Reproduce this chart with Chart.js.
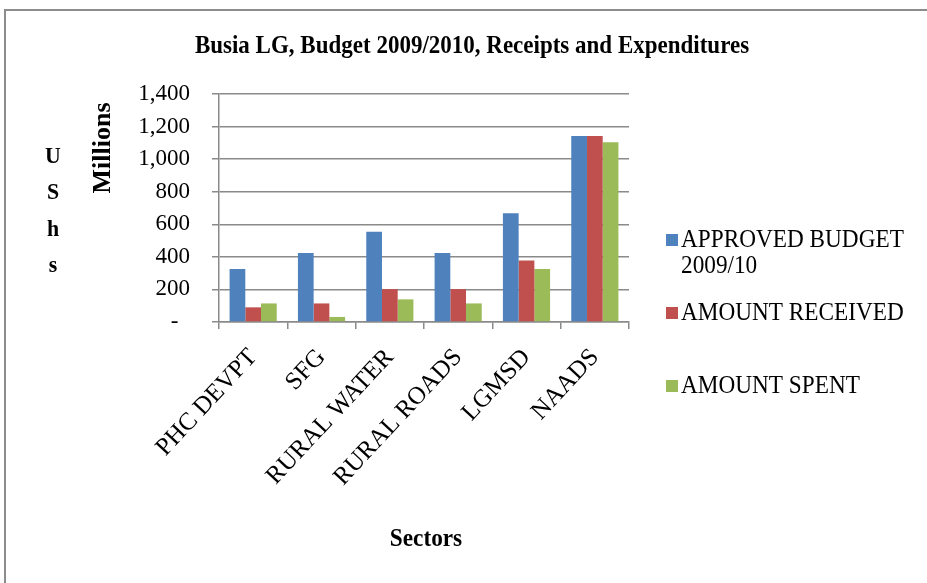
<!DOCTYPE html>
<html><head><meta charset="utf-8">
<script src="https://cdn.jsdelivr.net/npm/chart.js@4/dist/chart.umd.min.js"></script>
<style>html,body{margin:0;padding:0;background:#fff}canvas{display:block}</style>
</head><body>
<canvas id="c" width="927" height="583"></canvas>
<script>
const categories = ['PHC DEVPT','SFG','RURAL WATER','RURAL ROADS','LGMSD','NAADS'];
const approvedBudget = [325,423,554,423,668,1142];
const amountReceived = [90,114,202,202,378,1142];
const amountSpent = [114,31,139,114,325,1104];
const seriesLabels = ['APPROVED BUDGET 2009/10','AMOUNT RECEIVED','AMOUNT SPENT'];
const legendLines = [['APPROVED BUDGET','2009/10'],['AMOUNT RECEIVED'],['AMOUNT SPENT']];
const yTickValues = [0,200,400,600,800,1000,1200,1400];
const chartTitle = 'Busia LG, Budget 2009/2010, Receipts and Expenditures';
const yTitle = 'Millions';
const yUnitLetters = ['U','S','h','s'];
const xTitle = 'Sectors';

const colors = ['#4F81BD','#C0504D','#9BBB59'];
const SERIF = '"Liberation Serif","Times New Roman",serif';
const GRID = '#8a8a8a';

function squeezedText(ctx, text, x, y, sx) {
  ctx.save();
  ctx.translate(x, y);
  ctx.scale(sx, 1);
  ctx.fillText(text, 0, 0);
  ctx.restore();
}

const decor = {
  id: 'decor',
  beforeDraw(chart) {
    const ctx = chart.ctx;
    ctx.save();
    ctx.fillStyle = '#fff';
    ctx.fillRect(0, 0, chart.width, chart.height);
    ctx.strokeStyle = '#8c8c8c';
    ctx.lineWidth = 2;
    ctx.beginPath();
    ctx.moveTo(5, chart.height);
    ctx.lineTo(5, 10);
    ctx.lineTo(chart.width, 10);
    ctx.stroke();
    ctx.restore();
  },
  afterDraw(chart) {
    const ctx = chart.ctx;
    ctx.save();
    ctx.fillStyle = '#000';
    ctx.textBaseline = 'middle';
    // title
    ctx.font = 'bold 25px ' + SERIF;
    ctx.textAlign = 'center';
    squeezedText(ctx, chartTitle, 472, 47, 0.92);
    // Millions
    ctx.save();
    ctx.translate(103, 148);
    ctx.rotate(-Math.PI / 2);
    ctx.font = 'bold 26px ' + SERIF;
    squeezedText(ctx, yTitle, 0, 0, 1.0);
    ctx.restore();
    // U S h s
    ctx.font = 'bold 23px ' + SERIF;
    const ly = [157, 193, 230, 266];
    yUnitLetters.forEach((l, i) => squeezedText(ctx, l, 53, ly[i], 0.95));
    // Sectors
    ctx.font = 'bold 25px ' + SERIF;
    squeezedText(ctx, xTitle, 426, 540, 0.93);
    // legend
    ctx.textAlign = 'left';
    ctx.font = '25px ' + SERIF;
    const legY = [240, 313, 386];
    chart.data.datasets.forEach((ds, i) => {
      ctx.fillStyle = ds.backgroundColor;
      ctx.fillRect(666, legY[i] - 6, 12, 12);
      ctx.fillStyle = '#000';
      legendLines[i].forEach((t, j) => squeezedText(ctx, t, 681, legY[i] + j * 26, 0.93));
    });
    ctx.restore();
  }
};

new Chart(document.getElementById('c'), {
  type: 'bar',
  data: {
    labels: categories,
    datasets: [
      { label: seriesLabels[0], data: approvedBudget, backgroundColor: colors[0] },
      { label: seriesLabels[1], data: amountReceived, backgroundColor: colors[1] },
      { label: seriesLabels[2], data: amountSpent, backgroundColor: colors[2] }
    ]
  },
  options: {
    responsive: false,
    animation: false,
    devicePixelRatio: 1,
    layout: { padding: { left: 0, right: 298, top: 94, bottom: 0 } },
    datasets: { bar: { categoryPercentage: 0.69, barPercentage: 1.0 } },
    plugins: { legend: { display: false }, title: { display: false }, tooltip: { enabled: false } },
    scales: {
      x: {
        afterFit(s) { s.height = 261; },
        grid: { offset: true, drawOnChartArea: false, color: GRID, lineWidth: 1.5, tickLength: 7 },
        border: { color: GRID, width: 1.5 },
        ticks: { autoSkip: false, minRotation: 47, maxRotation: 47, padding: 14, color: '#000', font: { family: SERIF, size: 25 } }
      },
      y: {
        min: 0, max: 1400,
        afterFit(s) { s.width = 219; },
        afterBuildTicks(s) { s.ticks = yTickValues.map(v => ({ value: v })); },
        grid: { color: GRID, lineWidth: 1.5, tickLength: 7 },
        border: { color: GRID, width: 1.5 },
        ticks: {
          padding: 22, color: '#000', font: { family: SERIF, size: 23 },
          callback: v => v === 0 ? '-  ' : v.toLocaleString('en-US')
        }
      }
    }
  },
  plugins: [decor]
});
</script>
</body></html>
